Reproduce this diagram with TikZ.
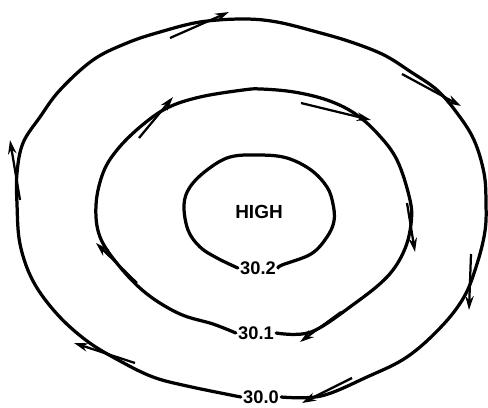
\documentclass[tikz,border=0pt]{standalone}
\usepackage{fontspec}
\setmainfont{Liberation Sans}
\usetikzlibrary{arrows.meta}

\begin{document}
\begin{tikzpicture}[x=0.025cm, y=-0.025cm, >=Stealth,
  isobar/.style={line width=2.3pt, line cap=round, line join=round},
  flow/.style={line width=1.6pt, -{Stealth[length=10pt, width=6pt]}},
  lbl/.style={font=\bfseries\fontsize{13}{13}\selectfont, inner sep=1.5pt}]
\useasboundingbox (0,0) rectangle (488,408);
% labels
\node[font=\bfseries\fontsize{13.5}{13.5}\selectfont] (high) at (259,212) {HIGH};
\node[lbl] (lbl302) at (258,268) {30.2};
\node[lbl] (lbl301) at (256,333) {30.1};
\node[lbl] (lbl300) at (261,397) {30.0};
% isobars
\draw[isobar] plot[smooth, tension=0.6] coordinates {(lbl302.east) (282,265) (311,254)
  (327,237) (334,221) (333,204) (327,187) (311,170) (287,158) (260,155) (230,157)
  (207,170) (190,187) (184,205) (188,230) (200,247) (217,258) (lbl302.west)};
\draw[isobar] plot[smooth, tension=0.6] coordinates {(lbl301.east) (311,332) (354,304)
  (387,277) (404,251) (411,224) (410,200) (397,160) (377,133) (354,113) (327,100)
  (294,92) (261,89) (243,90) (200,97) (167,108) (140,127) (117,150) (103,173)
  (96,205) (100,237) (120,267) (147,294) (180,314) (213,324) (lbl301.west)};
\draw[isobar] plot[smooth, tension=0.6] coordinates {(lbl300.east) (321,396) (367,377)
  (407,357) (441,327) (464,297) (477,264) (485,231) (486,203) (484,173) (474,140)
  (457,113) (437,90) (411,72) (384,55) (351,42) (317,32) (277,22) (243,19)
  (200,22) (160,32) (127,43) (93,60) (60,90) (40,117) (23,143) (17,173) (17,204)
  (20,244) (33,281) (57,314) (87,341) (120,361) (153,377) (187,386) (lbl300.west)};
% wind arrows
\foreach \xa/\ya/\xb/\yb in {170/38/229/12, 402/74/461/106, 471/254/469/310,
  352/378/302/403, 135/363/74/343, 20/200/10/140,
  139/138/173/97, 301/103/371/120, 407/203/415/252, 341/312/300/342, 137/283/96/243}{
    \draw[flow] (\xa,\ya) -- (\xb,\yb);
}
\end{tikzpicture}
\end{document}
